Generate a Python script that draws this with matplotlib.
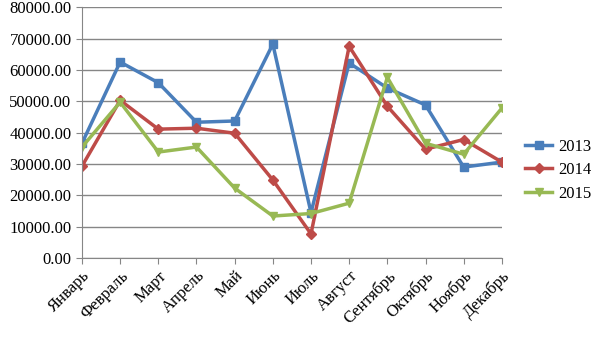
import matplotlib
matplotlib.use("Agg")
import matplotlib.pyplot as plt
from matplotlib.ticker import FormatStrFormatter

plt.rcParams["font.family"] = ["Liberation Serif", "DejaVu Serif"]
plt.rcParams["font.size"] = 12

months = ["Январь", "Февраль", "Март", "Апрель", "Май", "Июнь",
          "Июль", "Август", "Сентябрь", "Октябрь", "Ноябрь", "Декабрь"]
sales_2013 = [36600, 62500, 55900, 43300, 43700, 68200,
              14500, 62200, 54200, 48800, 29000, 30600]
sales_2014 = [29300, 50300, 41100, 41400, 39800, 24900,
              7700, 67500, 48400, 34700, 37800, 30600]
sales_2015 = [35400, 49700, 33800, 35400, 22300, 13400,
              14200, 17500, 57600, 36600, 33100, 47800]

series = [
    ("2013", sales_2013, "#4A7EBB", "s", 6),
    ("2014", sales_2014, "#BE4B48", "D", 5),
    ("2015", sales_2015, "#98B954", "v", 6),
]

fig = plt.figure(figsize=(6.05, 3.40), dpi=100)
ax = fig.add_axes([0.1355, 0.241, 0.694, 0.738])

x = list(range(len(months)))
for label, vals, color, marker, ms in series:
    ax.plot(x, vals, color=color, lw=2.5, marker=marker, ms=ms,
            label=label, solid_joinstyle="miter")

ax.set_xlim(0, len(months) - 1)
ax.set_ylim(0, 80000)
ax.set_yticks(range(0, 80001, 10000))
ax.yaxis.set_major_formatter(FormatStrFormatter("%.2f"))
ax.set_xticks(x)
ax.set_xticklabels(months, rotation=45, ha="right", rotation_mode="anchor")

ax.grid(axis="y", color="#868686", lw=1)
ax.set_axisbelow(True)
for side in ("top", "right"):
    ax.spines[side].set_visible(False)
for side in ("left", "bottom"):
    ax.spines[side].set_color("#868686")
ax.tick_params(axis="both", color="#868686", length=4, direction="out")
ax.tick_params(axis="x", pad=3)

ax.legend(loc="center left", bbox_to_anchor=(1.02, 0.35), frameon=False,
          handlelength=1.6, handletextpad=0.4, labelspacing=0.45)

fig.savefig("out.png", dpi=100)
